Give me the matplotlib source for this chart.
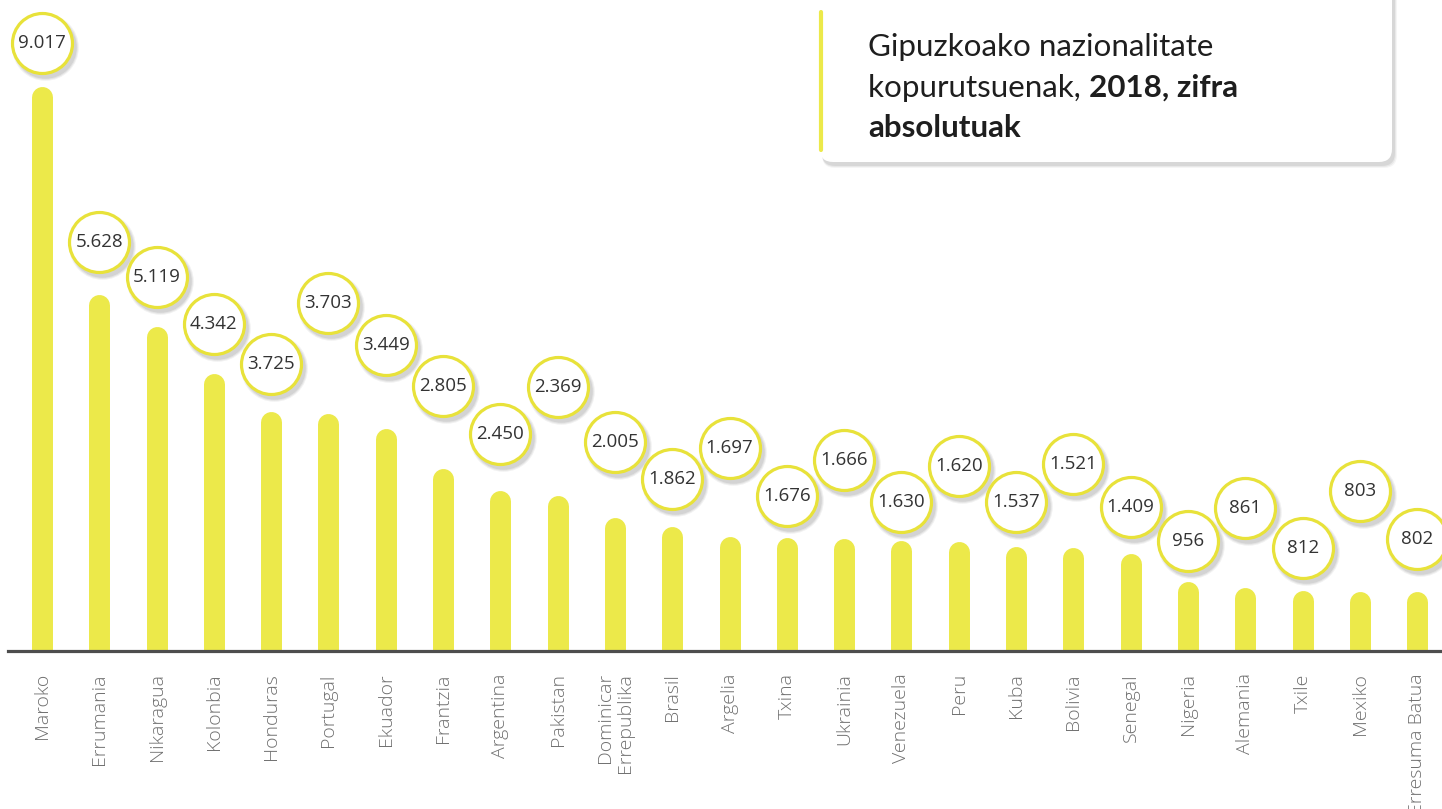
import matplotlib
matplotlib.use("Agg")
import matplotlib.pyplot as plt
from matplotlib.patches import FancyBboxPatch
from matplotlib.lines import Line2D
from matplotlib.transforms import IdentityTransform, offset_copy

countries = ["Maroko", "Errumania", "Nikaragua", "Kolonbia", "Honduras", "Portugal",
             "Ekuador", "Frantzia", "Argentina", "Pakistan", "Dominicar\nErrepublika",
             "Brasil", "Argelia", "Txina", "Ukrainia", "Venezuela", "Peru", "Kuba",
             "Bolivia", "Senegal", "Nigeria", "Alemania", "Txile", "Mexiko", "Erresuma Batua"]
values = [9017, 5628, 5119, 4342, 3725, 3703, 3449, 2805, 2450, 2369, 2005,
          1862, 1697, 1676, 1666, 1630, 1620, 1537, 1521, 1409, 956, 861, 812, 803, 802]

# how far (pixels) each value bubble sits above the end of its bar
bubble_lift = [54, 63, 60, 60, 58, 121, 94, 93, 67, 119, 86, 58, 99, 52, 89,
               49, 86, 55, 94, 57, 51, 90, 53, 111, 63]

YELLOW = "#ece94a"
RING = "#e8e23a"

W, H, DPI = 1442, 809, 100
fig = plt.figure(figsize=(W / DPI, H / DPI), dpi=DPI)
ax = fig.add_axes([8 / W, 158 / H, 1434 / W, 651 / H])
ax.set_xlim(-0.593, 24.433)
ax.set_ylim(0, 10603)
for s in ax.spines.values():
    s.set_visible(False)
ax.set_yticks([])

x = list(range(len(values)))
ax.vlines(x, 0, values, colors=YELLOW, linewidth=15.1, capstyle="round", zorder=2)
ax.axhline(0, color="#4d4d4d", linewidth=2.3, clip_on=False, zorder=3)

ax.set_xticks(x)
ax.set_xticklabels(countries, rotation=90, fontsize=14, color="#707070",
                   family="Open Sans", fontweight="light", multialignment="right")
ax.tick_params(axis="x", length=0, pad=16)


def fmt(v):
    return f"{v:,}".replace(",", ".")


for i, (v, lift) in enumerate(zip(values, bubble_lift)):
    z = 10 + i * 3
    tr = offset_copy(ax.transData, fig=fig, x=0, y=lift, units="dots")
    for k, a in [(0, 0.07), (1.5, 0.06), (3, 0.05)]:
        sh = offset_copy(ax.transData, fig=fig, x=3, y=lift - 4, units="dots")
        ax.plot(i, v, marker="o", ms=45 + k, mew=0, color="black", alpha=a,
                transform=sh, zorder=z, clip_on=False)
    ax.plot(i, v, marker="o", ms=43.2, mew=2.3, mfc="white", mec=RING,
            transform=tr, zorder=z + 1, clip_on=False)
    ax.text(i, v, fmt(v), transform=tr, ha="center", va="center", fontsize=13.5,
            family="Open Sans", color="#333333", zorder=z + 2, clip_on=False)

# title card
for k, a in [(6, 0.04), (4, 0.05), (2, 0.07)]:
    fig.patches.append(FancyBboxPatch((820 + 2, 647 - 3 - k / 2), 572 + k / 2, 190,
                                      boxstyle="round,pad=0,rounding_size=13",
                                      transform=IdentityTransform(), facecolor="black",
                                      edgecolor="none", alpha=a, zorder=20))
fig.patches.append(FancyBboxPatch((820, 647), 572, 190,
                                  boxstyle="round,pad=0,rounding_size=13",
                                  transform=IdentityTransform(), facecolor="white",
                                  edgecolor="none", zorder=21))
fig.lines.append(Line2D([821, 821], [H - 150, H - 12], transform=IdentityTransform(),
                        color=YELLOW, linewidth=3, solid_capstyle="round", zorder=22))

tx = 868 / W
title_font = dict(fontsize=22.6, family="Lato", color="#1e1e1e", va="baseline", zorder=23)
fig.text(tx, 1 - 56 / H, "Gipuzkoako nazionalitate", fontweight="normal", **title_font)
t2 = fig.text(tx, 1 - 97 / H, "kopurutsuenak, ", fontweight="normal", **title_font)
fig.canvas.draw()
bb = t2.get_window_extent()
fig.text(bb.x1 / W, 1 - 97 / H, "2018, zifra", fontweight="bold", **title_font)
fig.text(tx, 1 - 137 / H, "absolutuak", fontweight="bold", **title_font)

fig.savefig("out.png", dpi=DPI, facecolor="white")
